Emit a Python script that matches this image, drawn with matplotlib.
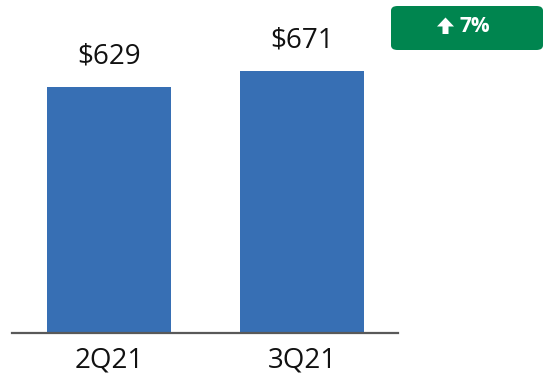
import matplotlib
matplotlib.use("Agg")
import matplotlib.pyplot as plt
from matplotlib.patches import FancyBboxPatch, Polygon

categories = ["2Q21", "3Q21"]
values = [629, 671]
value_labels = ["$629", "$671"]
badge_text = "7%"

W, H = 547, 390
fig = plt.figure(figsize=(W / 100, H / 100), dpi=100)
ax = fig.add_axes([12 / W, (H - 333) / H, (398 - 12) / W, 333 / H])
x = list(range(len(categories)))
ax.bar(x, values, width=0.642, color="#376FB4", zorder=2)
ax.set_xlim(-0.503, 1.497)
ax.set_ylim(0, 852)
for s in ["top", "right", "left"]:
    ax.spines[s].set_visible(False)
ax.spines["bottom"].set_color("#595959")
ax.spines["bottom"].set_linewidth(1.6)
ax.set_yticks([])
ax.set_xticks(x)
ax.set_xticklabels(categories, fontsize=20, family="Open Sans", color="#111111")
ax.tick_params(axis="x", length=0, pad=10)
for xi, v, lab in zip(x, values, value_labels):
    ax.annotate(lab, (xi, v), xytext=(0, 12), textcoords="offset points",
                ha="center", va="bottom", fontsize=20, family="Open Sans", color="#111111")

def fx(px):
    return px / W

def fy(py):
    return 1 - py / H

# badge
bx0, by0, bx1, by1 = 391, 6, 543, 50
badge = FancyBboxPatch((fx(bx0), fy(by1)), (bx1 - bx0) / W, (by1 - by0) / H,
                       boxstyle="round,pad=0,rounding_size=0.012",
                       transform=fig.transFigure, facecolor="#00854F", edgecolor="none")
fig.patches.append(badge)
# up arrow glyph
arrow_px = [(437, 26.5), (445.5, 17.5), (454, 26.5), (448.5, 26.5), (448.5, 34),
            (442.5, 34), (442.5, 26.5)]
arrow = Polygon([(fx(a), fy(b)) for a, b in arrow_px], closed=True,
                transform=fig.transFigure, facecolor="white", edgecolor="none")
fig.patches.append(arrow)
fig.text(fx(459), fy(26), badge_text, ha="left", va="center", color="white",
         fontsize=15, fontweight="bold", family="Open Sans")

fig.savefig("out.png", dpi=100)
